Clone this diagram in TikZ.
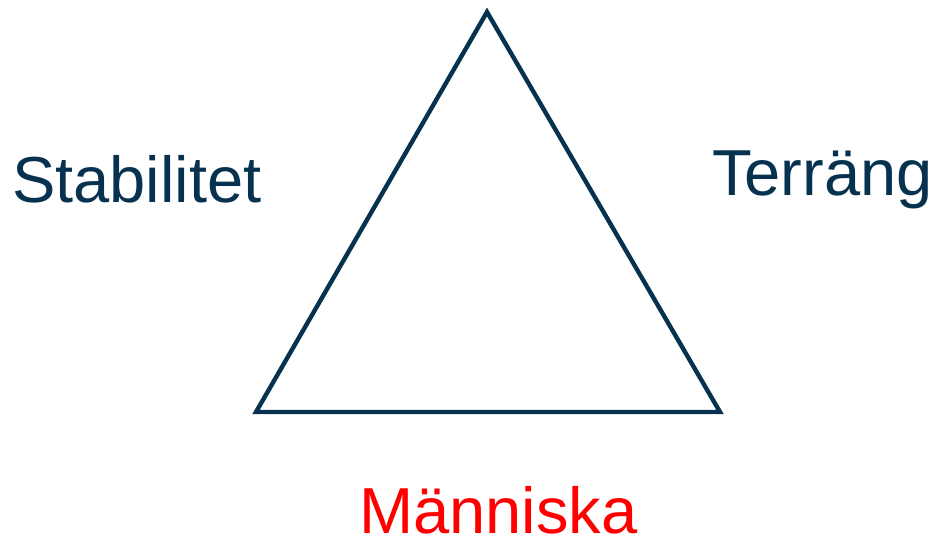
\documentclass[tikz,border=0pt]{standalone}
\usepackage{fontspec}
\setmainfont{Liberation Sans}
\definecolor{navy}{RGB}{6,50,80}
\definecolor{rod}{RGB}{255,0,0}
\begin{document}
\begin{tikzpicture}[x=1pt,y=-1pt]
                 \useasboundingbox (0,0) rectangle (937,541);
                 \tikzset{label/.style={inner sep=0pt,anchor=base west,text depth=0pt,font=\fontsize{65}{65}\selectfont}}
                 \coordinate (top) at (487,12);
                 \coordinate (left) at (256,412);
                 \coordinate (right) at (720,412);
                 \draw[navy,line width=4.4pt,line join=miter] (top) -- (left) -- (right) -- cycle;
                 \node[label,text=navy] (stab) at (12,202) {Stabilitet};
                 \node[label,text=navy] (terr) at (712,195) {Terräng};
                 \node[label,text=rod] (mann) at (359,533) {Människa};
                \end{tikzpicture}
\end{document}
